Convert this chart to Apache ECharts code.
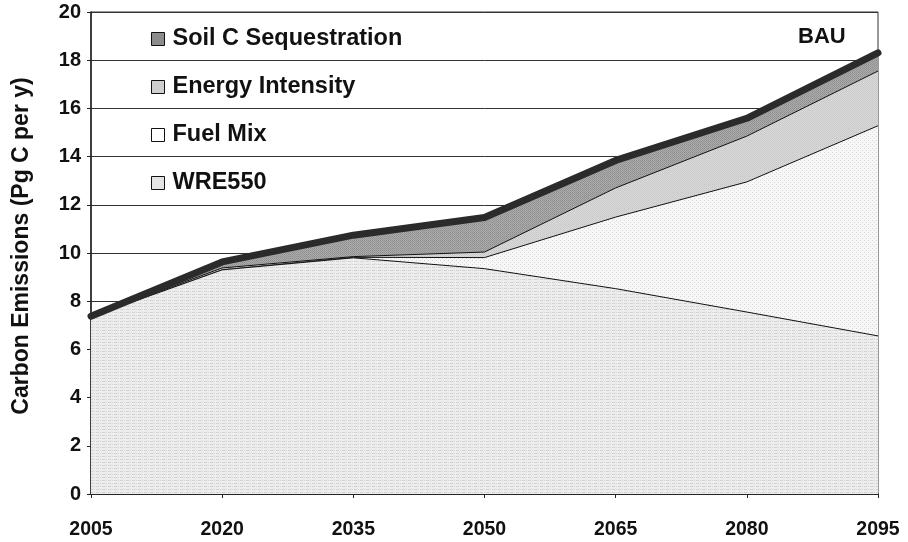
<!DOCTYPE html>
<html>
<head>
<meta charset="utf-8">
<script src="https://cdn.jsdelivr.net/npm/echarts@6/dist/echarts.min.js"></script>
<style>
html,body{margin:0;padding:0;background:#fff;}
#c{width:908px;height:542px;}
</style>
</head>
<body>
<div id="c"></div>
<script>
// Data (top of each wedge, Pg C per y)
var years = ['2005', '2020', '2035', '2050', '2065', '2080', '2095'];
var wre550 = [7.35, 9.3, 9.8, 9.35, 8.52, 7.55, 6.56];
var fuelMix = [7.35, 9.3, 9.82, 9.81, 11.49, 12.95, 15.28];
var energyIntensity = [7.35, 9.38, 9.85, 10.04, 12.7, 14.85, 17.55];
var bau = [7.38, 9.63, 10.74, 11.47, 13.84, 15.59, 18.3];
var yTicks = { min: 0, max: 20, interval: 2 };

var FONT = '"Liberation Sans", Arial, sans-serif';

// small repeating texture tiles (printed-screen look)
function tile(w, h, base, marks) {
  var cv = document.createElement('canvas');
  cv.width = w; cv.height = h;
  var ctx = cv.getContext('2d');
  ctx.fillStyle = base; ctx.fillRect(0, 0, w, h);
  marks.forEach(function (m) { ctx.fillStyle = m[2]; ctx.fillRect(m[0], m[1], 1, 1); });
  return { image: cv, repeat: 'repeat' };
}
var patWre = tile(6, 3, '#eeeeee', [[0,0,'#cfcfcf'],[1,0,'#d6d6d6'],[2,0,'#cfcfcf'],[4,0,'#d6d6d6'],[3,2,'#e2e2e2']]);
var patFuel = tile(4, 4, '#f7f7f7', [[0,0,'#d4d4d4'],[2,2,'#dcdcdc']]);
var patEnergy = tile(2, 2, '#dadada', [[0,0,'#c6c6c6'],[1,1,'#cdcdcd']]);
var patSoil = tile(2, 2, '#ababab', [[0,0,'#8e8e8e'],[1,1,'#979797']]);

var chart = echarts.init(document.getElementById('c'));

function areaSeries(name, data, fill, icon, z) {
  return {
    name: name, type: 'line', data: data, z: z,
    showSymbol: false, symbol: 'none', silent: true,
    lineStyle: { color: '#111', width: 1 },
    itemStyle: { color: icon },
    areaStyle: { color: fill, opacity: 1 }
  };
}

chart.setOption({
  animation: false,
  backgroundColor: '#fff',
  grid: { left: 91, right: 30, top: 12, bottom: 48, show: true, borderColor: '#333', borderWidth: 1, backgroundColor: 'transparent' },
  legend: {
    orient: 'vertical', left: 146, top: 22, itemGap: 24,
    itemWidth: 13, itemHeight: 13, icon: 'rect',
    textStyle: { fontFamily: FONT, fontWeight: 'bold', fontSize: 23.5, color: '#111', padding: [0, 0, 0, 3] },
    data: [
      { name: 'Soil C Sequestration', itemStyle: { color: '#8c8c8c', borderColor: '#111', borderWidth: 1 } },
      { name: 'Energy Intensity', itemStyle: { color: '#cfcfcf', borderColor: '#111', borderWidth: 1 } },
      { name: 'Fuel Mix', itemStyle: { color: '#ffffff', borderColor: '#111', borderWidth: 1 } },
      { name: 'WRE550', itemStyle: { color: '#e4e4e4', borderColor: '#111', borderWidth: 1 } }
    ]
  },
  xAxis: {
    type: 'category', data: years, boundaryGap: false,
    axisLine: { lineStyle: { color: '#222', width: 1.5 } },
    axisTick: { show: true, inside: false, length: 4, lineStyle: { color: '#222' } },
    axisLabel: { fontFamily: FONT, fontWeight: 'bold', fontSize: 19.5, color: '#111', margin: 26 },
    splitLine: { show: false }
  },
  yAxis: {
    type: 'value', min: yTicks.min, max: yTicks.max, interval: yTicks.interval,
    axisLine: { show: true, lineStyle: { color: '#222', width: 1.5 } },
    axisTick: { show: true, inside: false, length: 4, lineStyle: { color: '#222' } },
    axisLabel: { fontFamily: FONT, fontWeight: 'bold', fontSize: 20, color: '#111', margin: 10 },
    splitLine: { show: true, lineStyle: { color: '#333', width: 1 } }
  },
  series: [
    areaSeries('Soil C Sequestration', bau, patSoil, '#8c8c8c', 2),
    areaSeries('Energy Intensity', energyIntensity, patEnergy, '#cfcfcf', 3),
    areaSeries('Fuel Mix', fuelMix, patFuel, '#ffffff', 4),
    areaSeries('WRE550', wre550, patWre, '#e4e4e4', 5),
    {
      name: 'BAU', type: 'line', data: bau, z: 6, silent: true,
      showSymbol: false, symbol: 'none',
      lineStyle: { color: '#2b2b2b', width: 7, cap: 'round', join: 'round' },
      itemStyle: { color: '#2b2b2b' }
    }
  ],
  graphic: [
    { type: 'text', left: 798, top: 26, style: { text: 'BAU', fontFamily: FONT, fontWeight: 'bold', fontSize: 22, fill: '#111' } },
    { type: 'text', x: 22, y: 246, rotation: Math.PI / 2,
      style: { text: 'Carbon Emissions (Pg C per y)', fontFamily: FONT, fontWeight: 'bold', fontSize: 23, fill: '#111', align: 'center', verticalAlign: 'middle' } }
  ]
});
</script>
</body>
</html>
